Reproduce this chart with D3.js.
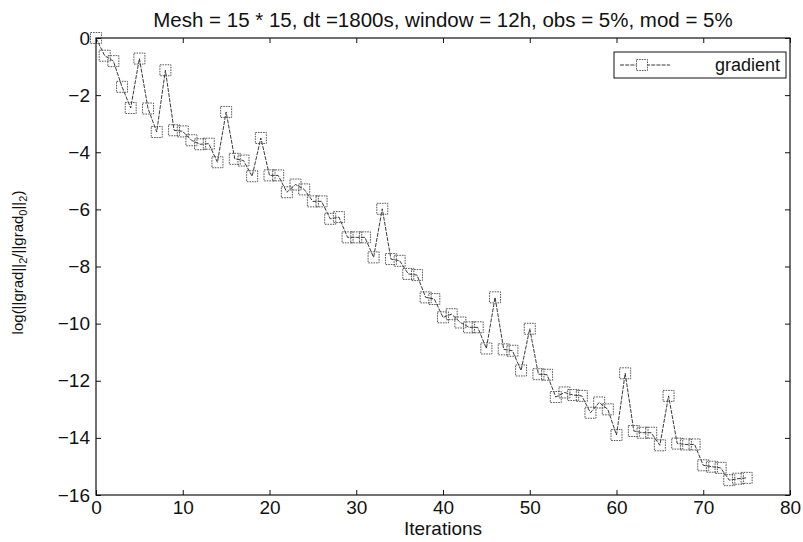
<!DOCTYPE html>
<html>
<head>
<meta charset="utf-8">
<script src="https://cdn.jsdelivr.net/npm/d3@7"></script>
<style>
  html, body { margin: 0; padding: 0; background: #fff; }
  svg { display: block; font-family: "Liberation Sans", Arial, Helvetica, sans-serif; }
</style>
</head>
<body>
<svg id="chart" width="803" height="542"></svg>
<script>
// Gradient-norm reduction per iteration (log scale), iterations 0..75
const iterations = d3.range(0, 76);
const gradientLog = [
  0.00, -0.62, -0.81, -1.71, -2.45, -0.72, -2.47, -3.29, -1.13, -3.23,
  -3.27, -3.58, -3.72, -3.70, -4.35, -2.59, -4.23, -4.29, -4.84, -3.50,
  -4.81, -4.81, -5.40, -5.13, -5.30, -5.72, -5.72, -6.33, -6.27, -6.98,
  -6.98, -6.98, -7.68, -5.98, -7.74, -7.80, -8.26, -8.30, -9.08, -9.14,
  -9.78, -9.67, -9.96, -10.13, -10.13, -10.87, -9.08, -10.90, -10.95, -11.64,
  -10.18, -11.77, -11.79, -12.57, -12.41, -12.50, -12.53, -13.12, -12.76, -13.00,
  -13.90, -11.74, -13.76, -13.82, -13.82, -14.26, -12.53, -14.20, -14.23, -14.23,
  -14.96, -15.01, -15.05, -15.48, -15.43, -15.40
];
const xTicks = [0, 10, 20, 30, 40, 50, 60, 70, 80];
const yTicks = [0, -2, -4, -6, -8, -10, -12, -14, -16];
const titleText = "Mesh = 15 * 15, dt =1800s, window = 12h, obs = 5%, mod = 5%";
const xLabel = "Iterations";
const legendLabel = "gradient";

const svg = d3.select("#chart");
const W = 803, H = 542;
const m = { left: 96, right: 13, top: 38, bottom: 47 };
const pw = W - m.left - m.right, ph = H - m.top - m.bottom;

const x = d3.scaleLinear().domain([0, 80]).range([m.left, m.left + pw]);
const y = d3.scaleLinear().domain([-16, 0]).range([m.top + ph, m.top]);

const points = iterations.map((it, i) => ({ it, v: gradientLog[i] }));
const font = "'Liberation Sans', Arial, sans-serif";

// Axes with inward ticks on all four sides
const tickLen = 5;
svg.append("g").attr("transform", `translate(0,${m.top + ph})`)
  .call(d3.axisBottom(x).tickValues(xTicks).tickSizeInner(-tickLen).tickSizeOuter(0).tickPadding(6))
  .call(g => g.select(".domain").remove());
svg.append("g").attr("transform", `translate(0,${m.top})`)
  .call(d3.axisTop(x).tickValues(xTicks).tickSizeInner(-tickLen).tickSizeOuter(0).tickFormat(""))
  .call(g => g.select(".domain").remove());
svg.append("g").attr("transform", `translate(${m.left},0)`)
  .call(d3.axisLeft(y).tickValues(yTicks).tickSizeInner(-tickLen).tickSizeOuter(0).tickPadding(6)
    .tickFormat(d => d === 0 ? "0" : "\u2212" + Math.abs(d)))
  .call(g => g.select(".domain").remove());
svg.append("g").attr("transform", `translate(${m.left + pw},0)`)
  .call(d3.axisRight(y).tickValues(yTicks).tickSizeInner(-tickLen).tickSizeOuter(0).tickFormat(""))
  .call(g => g.select(".domain").remove());

svg.selectAll(".tick text").attr("font-size", 19).attr("fill", "#111").attr("font-family", font);
svg.selectAll(".tick line").attr("stroke", "#111");

// Frame
svg.append("rect").attr("x", m.left).attr("y", m.top).attr("width", pw).attr("height", ph)
  .attr("fill", "none").attr("stroke", "#111").attr("stroke-width", 1.2);

// Series line
const line = d3.line().x(d => x(d.it)).y(d => y(d.v));
svg.append("path").datum(points).attr("d", line)
  .attr("fill", "none").attr("stroke", "#222").attr("stroke-width", 0.9)
  .attr("stroke-dasharray", "4,1.2");

// Square markers
const ms = 11;
svg.append("g").selectAll("rect").data(points).join("rect")
  .attr("x", d => x(d.it) - ms / 2).attr("y", d => y(d.v) - ms / 2)
  .attr("width", ms).attr("height", ms)
  .attr("fill", "none").attr("stroke", "#444").attr("stroke-width", 0.9)
  .attr("stroke-dasharray", "1.6,1");

// Title
svg.append("text").attr("x", m.left + pw / 2).attr("y", 27).attr("text-anchor", "middle")
  .attr("font-size", 20.5).attr("fill", "#111").text(titleText);

// X label
svg.append("text").attr("x", m.left + pw / 2).attr("y", 535).attr("text-anchor", "middle")
  .attr("font-size", 19).attr("fill", "#111").text(xLabel);

// Y label with subscripts
const yl = svg.append("text")
  .attr("transform", `translate(23,${m.top + ph / 2 - 4}) rotate(-90)`)
  .attr("text-anchor", "middle").attr("font-size", 15).attr("fill", "#111");
yl.append("tspan").text("log(||grad||");
yl.append("tspan").attr("font-size", 11).attr("dy", 4).text("2");
yl.append("tspan").attr("dy", -4).text("/||grad");
yl.append("tspan").attr("font-size", 11).attr("dy", 4).text("0");
yl.append("tspan").attr("dy", -4).text("||");
yl.append("tspan").attr("font-size", 11).attr("dy", 4).text("2");
yl.append("tspan").attr("dy", -4).text(")");

// Legend
const lgW = 172, lgH = 26;
const lg = svg.append("g").attr("transform", `translate(${m.left + pw - lgW - 4},${m.top + 14})`);
lg.append("rect").attr("x", 0).attr("y", 0).attr("width", lgW).attr("height", lgH)
  .attr("fill", "#fff").attr("stroke", "#111").attr("stroke-width", 1);
lg.append("line").attr("x1", 6).attr("x2", 56).attr("y1", lgH / 2).attr("y2", lgH / 2)
  .attr("stroke", "#222").attr("stroke-width", 0.9).attr("stroke-dasharray", "4,1.2");
lg.append("rect").attr("x", 28 - ms / 2).attr("y", lgH / 2 - ms / 2).attr("width", ms).attr("height", ms)
  .attr("fill", "#fff").attr("stroke", "#444").attr("stroke-width", 0.9).attr("stroke-dasharray", "1.6,1");
lg.append("text").attr("x", lgW - 6).attr("y", lgH / 2 + 6).attr("text-anchor", "end")
  .attr("font-size", 18).attr("fill", "#111").text(legendLabel);
</script>
</body>
</html>
